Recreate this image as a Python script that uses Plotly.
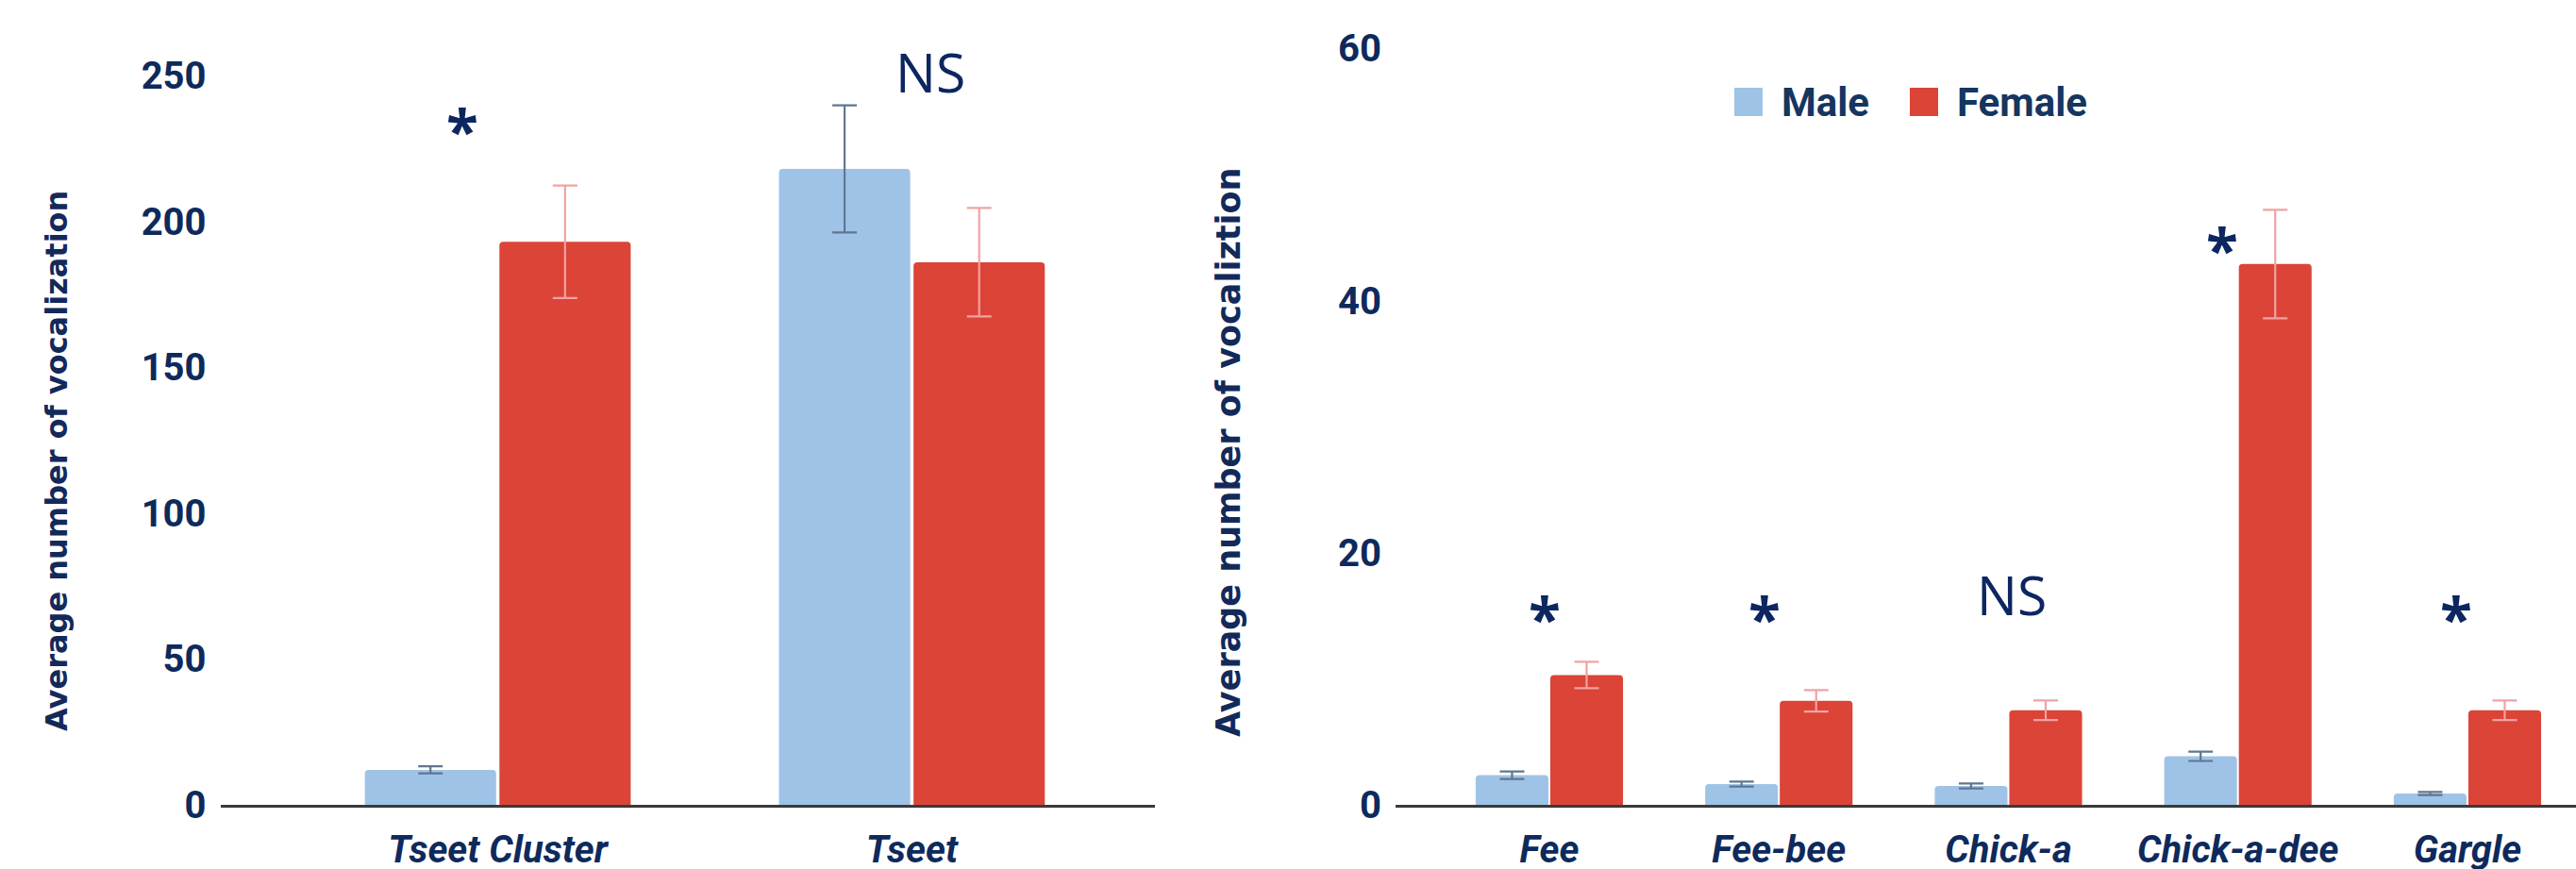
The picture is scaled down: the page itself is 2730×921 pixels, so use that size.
import plotly.graph_objects as go

# ---- data -------------------------------------------------------------
high_calls = ["Tseet Cluster", "Tseet"]
high_male = [12, 218]
high_male_err = [1.2, 21.8]
high_female = [193, 186]
high_female_err = [19.3, 18.6]
high_marks = ["*", "NS"]

low_calls = ["Fee", "Fee-bee", "Chick-a", "Chick-a-dee", "Gargle"]
low_male = [2.35, 1.65, 1.5, 3.85, 0.9]
low_male_err = [0.3, 0.2, 0.2, 0.37, 0.12]
low_female = [10.3, 8.25, 7.5, 42.9, 7.5]
low_female_err = [1.05, 0.85, 0.78, 4.3, 0.78]
low_marks = ["*", "*", "NS", "*", "*"]

# ---- style ------------------------------------------------------------
MALE = "#9fc3e7"
FEMALE = "#db4437"
MALE_ERR = "#5f7690"
FEMALE_ERR = "#f2a2a2"
NAVY = "#0c2660"
TICK = "#0e2a5c"
AXIS_LINE = "#3a3a3a"

BAR_W = 0.317
MALE_OFF = -0.321
FEMALE_OFF = 0.004

W, H = 2730, 921
Y0_PX, YTOP_PX = 853, 49


def bars(cats, vals, errs, color, ecolor, offset, xa, ya, name):
    return go.Bar(
        x=cats, y=vals, name=name, xaxis=xa, yaxis=ya,
        width=[BAR_W] * len(cats), offset=offset,
        marker=dict(color=color, line=dict(width=0), cornerradius=4),
        error_y=dict(type="data", array=errs, visible=True,
                     color=ecolor, thickness=2.2, width=13),
        showlegend=False, cliponaxis=False,
    )


fig = go.Figure()
fig.add_trace(bars(high_calls, high_male, high_male_err, MALE, MALE_ERR, MALE_OFF, "x", "y", "Male"))
fig.add_trace(bars(high_calls, high_female, high_female_err, FEMALE, FEMALE_ERR, FEMALE_OFF, "x", "y", "Female"))
fig.add_trace(bars(low_calls, low_male, low_male_err, MALE, MALE_ERR, MALE_OFF, "x2", "y2", "Male"))
fig.add_trace(bars(low_calls, low_female, low_female_err, FEMALE, FEMALE_ERR, FEMALE_OFF, "x2", "y2", "Female"))

ydom = [(H - Y0_PX) / H, (H - YTOP_PX) / H]
plot_h = Y0_PX - YTOP_PX

xtick_font = dict(family="Roboto", size=40, color=TICK, weight="bold", style="italic")
ytick_font = dict(family="Roboto", size=40, color=TICK, weight="bold")

xcommon = dict(type="category", showline=True, linecolor=AXIS_LINE, linewidth=3,
               showgrid=False, zeroline=False, ticks="", tickfont=xtick_font,
               ticklabelstandoff=10, fixedrange=True, automargin=False)
ycommon = dict(showline=False, showgrid=False, zeroline=False, ticks="",
               tickfont=ytick_font, ticklabelstandoff=14, fixedrange=True,
               automargin=False)

fig.update_layout(
    width=W, height=H,
    margin=dict(l=0, r=0, t=0, b=0, autoexpand=False),
    paper_bgcolor="white", plot_bgcolor="white",
    barmode="overlay",
    showlegend=False,
    xaxis=dict(xcommon, domain=[233.5 / W, 1224 / W], range=[-0.670, 1.587], anchor="y"),
    yaxis=dict(ycommon, domain=ydom, range=[0, plot_h / (154.6 / 50)],
               tickvals=[0, 50, 100, 150, 200, 250], anchor="x"),
    xaxis2=dict(xcommon, domain=[1479 / W, 1.0], range=[-0.670, 4.473], anchor="y2"),
    yaxis2=dict(ycommon, domain=ydom, range=[0, plot_h / 13.36],
                tickvals=[0, 20, 40, 60], anchor="x2"),
)

annotations = []

# axis titles
annotations.append(dict(text="Average number of vocalization", xref="paper", yref="paper",
                        x=60 / W, y=(H - 489) / H, textangle=-90, showarrow=False,
                        xanchor="center", yanchor="middle",
                        font=dict(family="DejaVu Sans", size=32, color="#13295a", weight="bold")))
annotations.append(dict(text="Average number of vocaliztion", xref="paper", yref="paper",
                        x=1302 / W, y=(H - 479) / H, textangle=-90, showarrow=False,
                        xanchor="center", yanchor="middle",
                        font=dict(family="DejaVu Sans", size=35, color="#13295a", weight="bold")))

# significance marks
high_mark_pos = [(-0.085, 234.2), (1.044, 251.3)]
low_mark_pos = [(-0.02, 15.5), (0.938, 15.5), (2.016, 16.7), (2.93, 44.76), (3.95, 15.5)]


def mark(text, x, y, xa, ya):
    if text == "NS":
        font = dict(family="Open Sans", size=57, color=NAVY)
        yshift = 0
    else:
        font = dict(family="Open Sans", size=62, color=NAVY, weight="bold")
        yshift = -9
    return dict(text=text, x=x, y=y, xref=xa, yref=ya, showarrow=False,
                xanchor="center", yanchor="middle", font=font, yshift=yshift)


for t, (x, y) in zip(high_marks, high_mark_pos):
    annotations.append(mark(t, x, y, "x", "y"))
for t, (x, y) in zip(low_marks, low_mark_pos):
    annotations.append(mark(t, x, y, "x2", "y2"))

# legend (square swatches + labels)
legend_items = [("Male", MALE, 1838), ("Female", FEMALE, 2024)]
shapes = []
for label, color, x0 in legend_items:
    shapes.append(dict(type="rect", xref="paper", yref="paper",
                       x0=x0 / W, x1=(x0 + 30) / W, y0=(H - 123) / H, y1=(H - 93) / H,
                       fillcolor=color, line=dict(width=0), layer="above"))
    annotations.append(dict(text=label, xref="paper", yref="paper",
                            x=(x0 + 48) / W, y=(H - 108) / H, showarrow=False,
                            xanchor="left", yanchor="middle",
                            font=dict(family="Roboto", size=42, color="#14365f", weight="bold")))

fig.update_layout(annotations=annotations, shapes=shapes)

fig.write_html("out.html")
